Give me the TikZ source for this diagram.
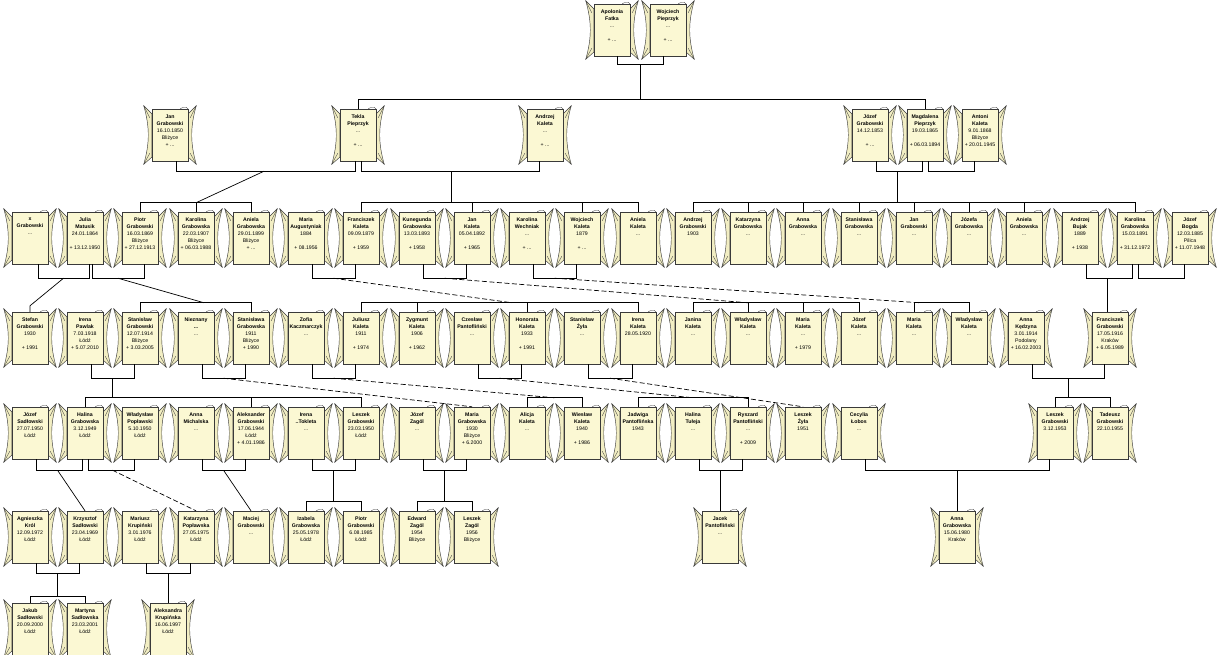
\documentclass[tikz,border=0pt]{standalone}
\usepackage{fontspec}
\setmainfont{Liberation Sans}
\usetikzlibrary{calc}
\definecolor{parch}{HTML}{FBF8D3}
\definecolor{parchshade}{HTML}{F2EEC3}
\definecolor{rim}{HTML}{3A3A3A}
\newcommand{\who}[2]{\textbf{#1}\\\textbf{#2}}
\newcommand{\scrollwings}[1]{%
  \draw[wing] ($(#1.north west)+(0,5)$) -- ++(-8,-8)
    .. controls ($(#1.west)+(-2,-8)$) and ($(#1.west)+(-2,8)$) .. ($(#1.south west)+(-8,3)$)
    -- ($(#1.south west)+(0,-4)$) -- cycle;
  \draw[wing] ($(#1.north east)+(0,5)$) -- ++(8,-8)
    .. controls ($(#1.east)+(2,-8)$) and ($(#1.east)+(2,8)$) .. ($(#1.south east)+(8,3)$)
    -- ($(#1.south east)+(0,-4)$) -- cycle;
  \draw[crease] ($(#1.north west)+(-8,-3)$) -- ($(#1.north west)+(-2,9)$);
  \draw[crease] ($(#1.south west)+(-8,3)$) -- ($(#1.south west)+(-2,-8)$);
  \draw[crease] ($(#1.north east)+(8,-3)$) -- ($(#1.north east)+(2,9)$);
  \draw[crease] ($(#1.south east)+(8,3)$) -- ($(#1.south east)+(2,-8)$);
  \draw[crease] ($(#1.north east)+(-8,0)$) .. controls ($(#1.north east)+(-4,-3)$) and ($(#1.north east)+(1,-2)$) .. ($(#1.north east)+(0,3)$);
}
\tikzset{
  wing/.style={draw=rim,fill=parchshade,line width=0.45pt},
  crease/.style={draw=rim,line width=0.3pt},
  person/.style={draw=rim,fill=parch,line width=0.45pt,minimum width=36pt,minimum height=52pt,inner sep=0pt,
    font=\fontsize{5.2}{6.9}\selectfont,
    execute at begin node={\begin{minipage}[c][40pt][t]{36pt}\centering},
    execute at end node={\end{minipage}},
    append after command={\pgfextra{\begin{pgfinterruptpath}\scrollwings{\tikzlastnode}\end{pgfinterruptpath}}}},
  link/.style={draw=black,line width=0.7pt},
  farlink/.style={link,dash pattern=on 5pt off 2.5pt}
}
\begin{document}
\begin{tikzpicture}[x=1pt,y=-1pt]
  \fill[white] (0,0) rectangle (1218,655);
  \useasboundingbox (0,0) rectangle (1218,655);

  % generation 0
  \node[person] (apolonia) at (612,30) {\who{Apolonia}{Fatka}\\* ...\\~\\+ ...};
  \node[person] (wojciech) at (668,30) {\who{Wojciech}{Pieprzyk}\\* ...\\~\\+ ...};

  % generation 1
  \node[person] (janG1) at (170,135) {\who{Jan}{Grabowski}\\* 16.10.1850\\Bliżyce\\+ ...};
  \node[person] (tekla) at (358,135) {\who{Tekla}{Pieprzyk}\\* ...\\~\\+ ...};
  \node[person] (andrzejK) at (545,135) {\who{Andrzej}{Kaleta}\\* ...\\~\\+ ...};
  \node[person] (jozefG1) at (870,135) {\who{Józef}{Grabowski}\\* 14.12.1853\\~\\+ ...};
  \node[person] (magdalena) at (925,135) {\who{Magdalena}{Pieprzyk}\\* 19.03.1865\\~\\+ 06.03.1894};
  \node[person] (antoni) at (980,135) {\who{Antoni}{Kaleta}\\* 9.01.1868\\Bliżyce\\+ 20.01.1945};

  % generation 2
  \node[person] (xgrab) at (30,238) {\who{x}{Grabowski}\\* ...};
  \node[person] (julia) at (85,238) {\who{Julia}{Matusik}\\* 24.01.1864\\~\\+ 13.12.1950};
  \node[person] (piotrG) at (140,238) {\who{Piotr}{Grabowski}\\* 16.03.1869\\Bliżyce\\+ 27.12.1913};
  \node[person] (karolinaG) at (196,238) {\who{Karolina}{Grabowska}\\* 22.03.1907\\Bliżyce\\+ 06.03.1988};
  \node[person] (anielaG) at (251,238) {\who{Aniela}{Grabowska}\\* 29.01.1899\\Bliżyce\\+ ...};
  \node[person] (mariaA) at (306,238) {\who{Maria}{Augustyniak}\\* 1884\\~\\+ 08.1956};
  \node[person] (franciszekK) at (361,238) {\who{Franciszek}{Kaleta}\\* 09.09.1879\\~\\+ 1959};
  \node[person] (kunegunda) at (417,238) {\who{Kunegunda}{Grabowska}\\* 13.03.1893\\~\\+ 1958};
  \node[person] (janK) at (472,238) {\who{Jan}{Kaleta}\\* 05.04.1892\\~\\+ 1965};
  \node[person] (karolinaW) at (527,238) {\who{Karolina}{Wechniak}\\* ...\\~\\+ ...};
  \node[person] (wojciechK) at (582,238) {\who{Wojciech}{Kaleta}\\* 1879\\~\\+ ...};
  \node[person] (anielaK) at (638,238) {\who{Aniela}{Kaleta}\\* ...};
  \node[person] (andrzejG) at (693,238) {\who{Andrzej}{Grabowski}\\* 1903};
  \node[person] (katarzynaG) at (748,238) {\who{Katarzyna}{Grabowska}\\* ...};
  \node[person] (annaG) at (803,238) {\who{Anna}{Grabowska}\\* ...};
  \node[person] (stanislawaG) at (859,238) {\who{Stanisława}{Grabowska}\\* ...};
  \node[person] (janG2) at (914,238) {\who{Jan}{Grabowski}\\* ...};
  \node[person] (jozefaG) at (969,238) {\who{Józefa}{Grabowska}\\* ...};
  \node[person] (anielaG2) at (1024,238) {\who{Aniela}{Grabowska}\\* ...};
  \node[person] (andrzejB) at (1080,238) {\who{Andrzej}{Bujak}\\* 1889\\~\\+ 1938};
  \node[person] (karolinaG2) at (1135,238) {\who{Karolina}{Grabowska}\\* 15.03.1891\\~\\+ 31.12.1972};
  \node[person] (jozefB) at (1190,238) {\who{Józef}{Bogda}\\* 12.03.1885\\Pilica\\+ 11.07.1948};

  % generation 3
  \node[person] (stefan) at (30,338) {\who{Stefan}{Grabowski}\\* 1930\\~\\+ 1991};
  \node[person] (irenaP) at (85,338) {\who{Irena}{Pawlak}\\* 7.03.1918\\Łódź\\+ 5.07.2010};
  \node[person] (stanislawG) at (140,338) {\who{Stanisław}{Grabowski}\\* 12.07.1914\\Bliżyce\\+ 3.03.2005};
  \node[person] (nieznany) at (196,338) {\who{Nieznany}{...}\\* ...};
  \node[person] (stanislawaG2) at (251,338) {\who{Stanisława}{Grabowska}\\* 1911\\Bliżyce\\+ 1990};
  \node[person] (zofia) at (306,338) {\who{Zofia}{Kaczmarczyk}\\* ...};
  \node[person] (juliusz) at (361,338) {\who{Juliusz}{Kaleta}\\* 1911\\~\\+ 1974};
  \node[person] (zygmunt) at (417,338) {\who{Zygmunt}{Kaleta}\\* 1906\\~\\+ 1962};
  \node[person] (czeslaw) at (472,338) {\who{Czesław}{Pantofliński}\\* ...};
  \node[person] (honorata) at (527,338) {\who{Honorata}{Kaleta}\\* 1933\\~\\+ 1991};
  \node[person] (stanislawZ) at (582,338) {\who{Stanisław}{Żyła}\\* ...};
  \node[person] (irenaK) at (638,338) {\who{Irena}{Kaleta}\\* 28.05.1920};
  \node[person] (janina) at (693,338) {\who{Janina}{Kaleta}\\* ...};
  \node[person] (wladyslawK) at (748,338) {\who{Władysław}{Kaleta}\\* ...};
  \node[person] (mariaK) at (803,338) {\who{Maria}{Kaleta}\\* ...\\~\\+ 1979};
  \node[person] (jozefK) at (859,338) {\who{Józef}{Kaleta}\\* ...};
  \node[person] (mariaK2) at (914,338) {\who{Maria}{Kaleta}\\* ...};
  \node[person] (wladyslawK2) at (969,338) {\who{Władysław}{Kaleta}\\* ...};
  \node[person] (annaK) at (1026,338) {\who{Anna}{Kędzyna}\\* 3.01.1914\\Podolany\\+ 16.02.2003};
  \node[person] (franciszekG) at (1110,338) {\who{Franciszek}{Grabowski}\\* 17.05.1916\\Kraków\\+ 6.05.1989};

  % generation 4
  \node[person] (jozefS) at (30,433) {\who{Józef}{Sadłowski}\\* 27.07.1950\\Łódź};
  \node[person] (halina) at (85,433) {\who{Halina}{Grabowska}\\* 3.12.1949\\Łódź};
  \node[person] (wladyslawP) at (140,433) {\who{Władysław}{Popławski}\\* 5.10.1950\\Łódź};
  \node[person] (annaM) at (196,433) {\who{Anna}{Michalska}\\* ...};
  \node[person] (aleksander) at (251,433) {\who{Aleksander}{Grabowski}\\* 17.06.1944\\Łódź\\+ 4.01.1986};
  \node[person] (irenaT) at (306,433) {\who{Irena}{..Tokleta}\\* ...};
  \node[person] (leszekG) at (361,433) {\who{Leszek}{Grabowski}\\* 23.03.1950\\Łódź};
  \node[person] (jozefZ) at (417,433) {\who{Józef}{Zagól}\\* ...};
  \node[person] (mariaG) at (472,433) {\who{Maria}{Grabowska}\\* 1930\\Bliżyce\\+ 6.2000};
  \node[person] (alicja) at (527,433) {\who{Alicja}{Kaleta}\\* ...};
  \node[person] (wieslaw) at (582,433) {\who{Wiesław}{Kaleta}\\* 1940\\~\\+ 1986};
  \node[person] (jadwiga) at (638,433) {\who{Jadwiga}{Pantoflińska}\\* 1943};
  \node[person] (halinaT) at (693,433) {\who{Halina}{Tułeja}\\* ...};
  \node[person] (ryszard) at (748,433) {\who{Ryszard}{Pantofliński}\\* ...\\~\\+ 2009};
  \node[person] (leszekZ) at (803,433) {\who{Leszek}{Żyła}\\* 1951};
  \node[person] (cecylia) at (859,433) {\who{Cecylia}{Łobos}\\* ...};
  \node[person] (leszekG2) at (1055,433) {\who{Leszek}{Grabowski}\\* 3.12.1953};
  \node[person] (tadeusz) at (1110,433) {\who{Tadeusz}{Grabowski}\\* 22.10.1955};

  % generation 5
  \node[person] (agnieszka) at (30,537) {\who{Agnieszka}{Król}\\* 12.09.1972\\Łódź};
  \node[person] (krzysztof) at (85,537) {\who{Krzysztof}{Sadłowski}\\* 23.04.1969\\Łódź};
  \node[person] (mariusz) at (140,537) {\who{Mariusz}{Krupiński}\\* 3.01.1976\\Łódź};
  \node[person] (katarzynaP) at (196,537) {\who{Katarzyna}{Popławska}\\* 27.05.1975\\Łódź};
  \node[person] (maciej) at (251,537) {\who{Maciej}{Grabowski}\\* ...};
  \node[person] (izabela) at (306,537) {\who{Izabela}{Grabowska}\\* 25.05.1978\\Łódź};
  \node[person] (piotrG2) at (361,537) {\who{Piotr}{Grabowski}\\* 6.08.1985\\Łódź};
  \node[person] (edward) at (417,537) {\who{Edward}{Zagól}\\* 1954\\Bliżyce};
  \node[person] (leszekZ2) at (472,537) {\who{Leszek}{Zagól}\\* 1956\\Bliżyce};
  \node[person] (jacek) at (720,537) {\who{Jacek}{Pantofliński}\\* ...};
  \node[person] (annaG3) at (957,537) {\who{Anna}{Grabowska}\\* 15.06.1980\\Kraków};

  % generation 6
  \node[person] (jakub) at (30,629) {\who{Jakub}{Sadłowski}\\* 20.09.2000\\Łódź};
  \node[person] (martyna) at (85,629) {\who{Martyna}{Sadłowska}\\* 23.03.2001\\Łódź};
  \node[person] (aleksandra) at (168,629) {\who{Aleksandra}{Krupińska}\\* 16.06.1997\\Łódź};

  % couples
  \draw[link] ([xshift=5pt]apolonia.south) -- ++(0,8) -| ([xshift=-5pt]wojciech.south);
  \draw[link] ([xshift=6pt]janG1.south) -- ++(0,10) -| ([xshift=-3pt]tekla.south);
  \draw[link] ([xshift=3pt]tekla.south) -- ++(0,10) -| ([xshift=-6pt]andrzejK.south);
  \draw[link] ([xshift=6pt]jozefG1.south) -- ++(0,10) -| ([xshift=-3pt]magdalena.south);
  \draw[link] ([xshift=3pt]magdalena.south) -- ++(0,10) -| ([xshift=-6pt]antoni.south);
  \draw[link] ([xshift=8pt]xgrab.south) -- ++(0,14) -| ([xshift=4pt]julia.south);
  \draw[link] ([xshift=7pt]julia.south) -- ++(0,14) -| ([xshift=4pt]piotrG.south);
  \draw[link] ([xshift=6pt]mariaA.south) -- ++(0,14) -| ([xshift=-6pt]franciszekK.south);
  \draw[link] ([xshift=6pt]kunegunda.south) -- ++(0,14) -| ([xshift=-6pt]janK.south);
  \draw[link] ([xshift=6pt]karolinaW.south) -- ++(0,14) -| ([xshift=-6pt]wojciechK.south);
  \draw[link] ([xshift=6pt]andrzejB.south) -- ++(0,14) -| ([xshift=-3pt]karolinaG2.south);
  \draw[link] ([xshift=3pt]karolinaG2.south) -- ++(0,14) -| ([xshift=-6pt]jozefB.south);
  \draw[link] ([xshift=6pt]irenaP.south) -- ++(0,14) -| ([xshift=-6pt]stanislawG.south);
  \draw[link] ([xshift=6pt]nieznany.south) -- ++(0,14) -| ([xshift=-6pt]stanislawaG2.south);
  \draw[link] ([xshift=6pt]zofia.south) -- ++(0,14) -| ([xshift=-6pt]juliusz.south);
  \draw[link] ([xshift=6pt]czeslaw.south) -- ++(0,14) -| ([xshift=-6pt]honorata.south);
  \draw[link] ([xshift=6pt]stanislawZ.south) -- ++(0,14) -| ([xshift=-6pt]irenaK.south);
  \draw[link] ([xshift=6pt]annaK.south) -- ++(0,14) -| ([xshift=-6pt]franciszekG.south);
  \draw[link] ([xshift=6pt]jozefS.south) -- ++(0,11) -| ([xshift=-3pt]halina.south);
  \draw[link] ([xshift=3pt]halina.south) -- ++(0,11) -| ([xshift=-6pt]wladyslawP.south);
  \draw[link] ([xshift=6pt]annaM.south) -- ++(0,11) -| ([xshift=-6pt]aleksander.south);
  \draw[link] ([xshift=6pt]irenaT.south) -- ++(0,11) -| ([xshift=-6pt]leszekG.south);
  \draw[link] ([xshift=6pt]jozefZ.south) -- ++(0,11) -| ([xshift=-6pt]mariaG.south);
  \draw[link] ([xshift=6pt]halinaT.south) -- ++(0,11) -| ([xshift=-6pt]ryszard.south);
  \draw[link] ([xshift=6pt]cecylia.south) -- ++(0,11) -| ([xshift=-6pt]leszekG2.south);
  \draw[link] ([xshift=6pt]agnieszka.south) -- ++(0,10) -| ([xshift=-6pt]krzysztof.south);
  \draw[link] ([xshift=6pt]mariusz.south) -- ++(0,10) -| ([xshift=-6pt]katarzynaP.south);

  \coordinate (fam0) at ($(apolonia.south)!.5!(wojciech.south)+(0,8)$);
  \coordinate (fam1) at ($(janG1.south)!.5!(tekla.south)+(0,10)$);
  \coordinate (fam2) at ($(tekla.south)!.5!(andrzejK.south)+(0,10)$);
  \coordinate (fam3) at ($(jozefG1.south)!.5!(magdalena.south)+(0,10)$);
  \coordinate (fam4) at ($([xshift=8pt]xgrab.south)!.5!([xshift=4pt]julia.south)+(0,14)$);
  \coordinate (fam5) at ($([xshift=7pt]julia.south)!.5!([xshift=4pt]piotrG.south)+(0,14)$);
  \coordinate (fam6) at ($(mariaA.south)!.5!(franciszekK.south)+(0,14)$);
  \coordinate (fam7) at ($(kunegunda.south)!.5!(janK.south)+(0,14)$);
  \coordinate (fam8) at ($(karolinaW.south)!.5!(wojciechK.south)+(0,14)$);
  \coordinate (fam9) at ($(andrzejB.south)!.5!(karolinaG2.south)+(0,14)$);
  \coordinate (fam10) at ($(irenaP.south)!.5!(stanislawG.south)+(0,14)$);
  \coordinate (fam11) at ($(nieznany.south)!.5!(stanislawaG2.south)+(0,14)$);
  \coordinate (fam12) at ($(zofia.south)!.5!(juliusz.south)+(0,14)$);
  \coordinate (fam13) at ($(czeslaw.south)!.5!(honorata.south)+(0,14)$);
  \coordinate (fam14) at ($(stanislawZ.south)!.5!(irenaK.south)+(0,14)$);
  \coordinate (fam15) at ($(annaK.south)!.5!(franciszekG.south)+(0,14)$);
  \coordinate (fam16) at ($(jozefS.south)!.5!(halina.south)+(0,11)$);
  \coordinate (fam17) at ($(halina.south)!.5!(wladyslawP.south)+(0,11)$);
  \coordinate (fam18) at ($(annaM.south)!.5!(aleksander.south)+(0,11)$);
  \coordinate (fam19) at ($(irenaT.south)!.5!(leszekG.south)+(0,11)$);
  \coordinate (fam20) at ($(jozefZ.south)!.5!(mariaG.south)+(0,11)$);
  \coordinate (fam21) at ($(halinaT.south)!.5!(ryszard.south)+(0,11)$);
  \coordinate (fam22) at ($(cecylia.south)!.5!(leszekG2.south)+(0,11)$);
  \coordinate (fam23) at ($(agnieszka.south)!.5!(krzysztof.south)+(0,10)$);
  \coordinate (fam24) at ($(mariusz.south)!.5!(katarzynaP.south)+(0,10)$);

  % children
  \draw[link] (tekla.north) -- ++(0,-9) -| (magdalena.north);
  \draw[link] (fam0) -- ($(fam0 |- tekla.north)+(0,-9)$);

  \draw[link] (piotrG.north) -- ++(0,-9) -| (anielaG.north);
  \draw[link] (karolinaG.north) -- ++(0,-9);
  \draw[link] (fam1) -- ($(karolinaG.north)+(0,-9)$);
  \draw[link] (franciszekK.north) -- ++(0,-9) -| (anielaK.north);
  \foreach \c in {janK,wojciechK} \draw[link] (\c.north) -- ++(0,-9);
  \draw[link] (fam2) -- ($(fam2 |- janK.north)+(0,-9)$);
  \draw[link] (andrzejG.north) -- ++(0,-9) -| (karolinaG2.north);
  \foreach \c in {katarzynaG,annaG,stanislawaG,janG2,jozefaG,anielaG2} \draw[link] (\c.north) -- ++(0,-9);
  \draw[link] (fam3) -- ($(fam3 |- andrzejG.north)+(0,-9)$);

  \draw[link] (fam4) -- ($(stefan.north)+(0,-6)$) -- (stefan.north);
  \draw[link] (stanislawG.north) -- ++(0,-9) -| (stanislawaG2.north);
  \draw[link] (fam5) -- ($(nieznany.north)+(8,-9)$);
  \draw[link] (juliusz.north) -- ++(0,-9) -| (irenaK.north);
  \foreach \c in {zygmunt,honorata} \draw[link] (\c.north) -- ++(0,-9);
  \draw[farlink] (fam6) -- ($(honorata.north)+(-15,-9)$);
  \draw[link] (janina.north) -- ++(0,-9) -| (jozefK.north);
  \foreach \c in {wladyslawK,mariaK} \draw[link] (\c.north) -- ++(0,-9);
  \draw[farlink] (fam7) -- ($(wladyslawK.north)+(0,-9)$);
  \draw[link] (mariaK2.north) -- ++(0,-9) -| (wladyslawK2.north);
  \draw[farlink] (fam8) -- ($(mariaK2.north)+(6,-9)$);
  \draw[link] (fam9) -- (fam9 |- franciszekG.north);

  \draw[link] (halina.north) -- ++(0,-9) -| (leszekG.north);
  \draw[link] (aleksander.north) -- ++(0,-9);
  \draw[link] (fam10) -- ($(fam10 |- halina.north)+(0,-9)$);
  \draw[farlink] (fam11) -- (mariaG.north);
  \draw[link] (alicja.north) -- ++(0,-9) -| (wieslaw.north);
  \draw[farlink] (fam12) -- ($(alicja.north)!.5!(wieslaw.north)+(0,-9)$);
  \draw[link] (jadwiga.north) -- ++(0,-9) -| (ryszard.north);
  \draw[farlink] (fam13) -- ($(halinaT.north)+(0,-9)$);
  \draw[farlink] (fam14) -- (leszekZ.north);
  \draw[link] (leszekG2.north) -- ++(0,-9) -| (tadeusz.north);
  \draw[link] (fam15) -- ($(fam15 |- leszekG2.north)+(0,-9)$);

  \draw[link] (fam16) -- (krzysztof.north);
  \draw[farlink] (fam17) -- (katarzynaP.north);
  \draw[link] (fam18) -- (maciej.north);
  \draw[link] (izabela.north) -- ++(0,-9) -| (piotrG2.north);
  \draw[link] (fam19) -- ($(fam19 |- izabela.north)+(0,-9)$);
  \draw[link] (edward.north) -- ++(0,-9) -| (leszekZ2.north);
  \draw[link] (fam20) -- ($(fam20 |- edward.north)+(0,-9)$);
  \draw[link] (fam21) -- (fam21 |- jacek.north);
  \draw[link] (fam22) -- (fam22 |- annaG3.north);

  \draw[link] (jakub.north) -- ++(0,-6) -| (martyna.north);
  \draw[link] (fam23) -- ($(fam23 |- jakub.north)+(0,-6)$);
  \draw[link] (fam24) -- (fam24 |- aleksandra.north);
\end{tikzpicture}
\end{document}
